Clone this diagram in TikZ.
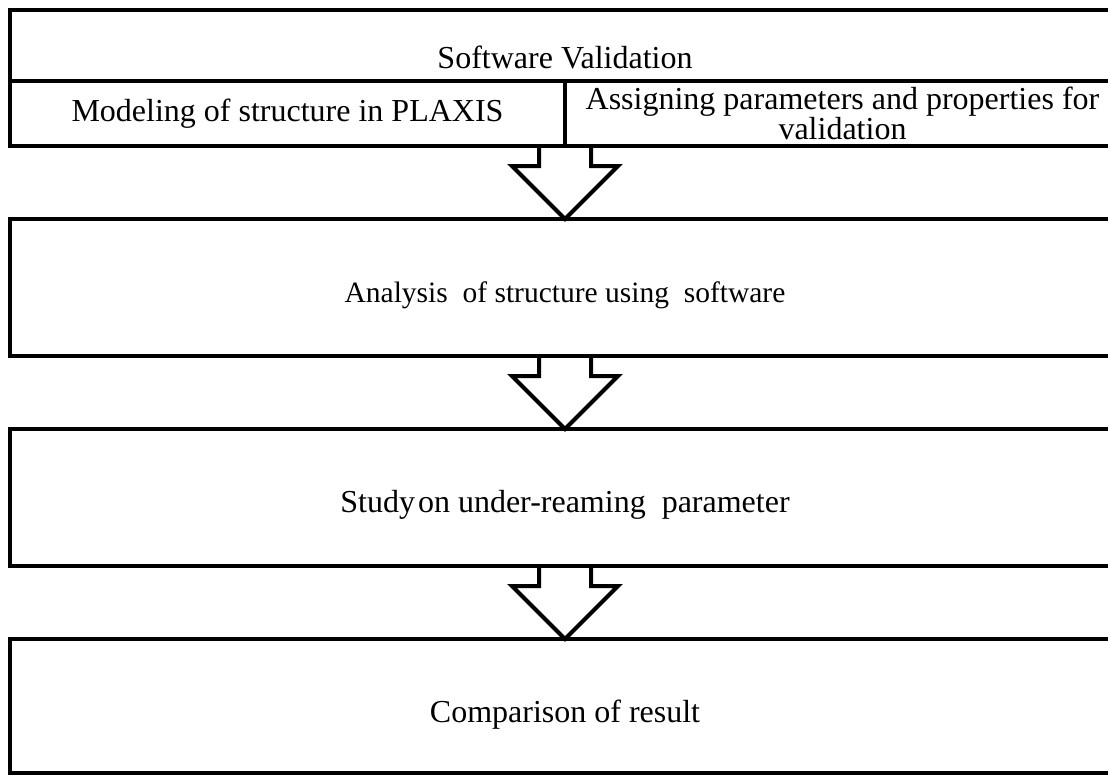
\documentclass[tikz,border=0pt]{standalone}
\usepackage{fontspec}
\setmainfont{Liberation Serif}
\usetikzlibrary{positioning}
\tikzset{stage/.style = {draw, line width = 4pt, inner sep = 0, outer sep = 0,
    minimum width = 1110pt, minimum height = 137pt, align = center,
    font = \fontsize{32}{30}\selectfont}}
\tikzset{cell/.style = {stage, minimum width = 555pt, minimum height = 65pt}}
\tikzset{flow/.style = {line width = 4pt, line join = miter}}

\begin{document}
\begin{tikzpicture}[x = 1pt, y = 1pt]
    \useasboundingbox (0, 0) rectangle (1108, -776);
    \clip (0, 0) rectangle (1108, -776);

    \node [stage, minimum height = 71pt, text height = 46pt, text depth = 0pt,
      anchor = north west] (valid) at (10, -10) {Software Validation};
    \node [cell, below right = 0pt of valid.south west] (model)
      {Modeling of structure in PLAXIS};
    \node [cell, right = 0pt of model] (assign)
      {Assigning parameters and properties for\\validation};
    \coordinate (split) at (model.south east);

    \node [stage, text height = 30pt, text depth = 0pt, font = \fontsize{29.5}{30}\selectfont,
      below = 73pt of split] (analysis)
      {Analysis\ \ of structure using\ \ software};
    \node [stage, text height = 30pt, text depth = 0pt, below = 73pt of analysis] (study)
      {Study\kern3pt on under-reaming\ \ parameter};
    \node [stage, minimum height = 134pt, text height = 32pt, text depth = 0pt,
      below = 73pt of study] (result) {Comparison of result};

    \foreach \a/\b in {split/analysis.north, analysis.south/study.north,
        study.south/result.north}
      \draw [flow] (\a) ++(-26, 0) -- ++(0, -20) -- ++(-27, 0) -- (\b)
        -- ++(53, 53) -- ++(-27, 0) -- ++(0, 20);
\end{tikzpicture}
\end{document}
